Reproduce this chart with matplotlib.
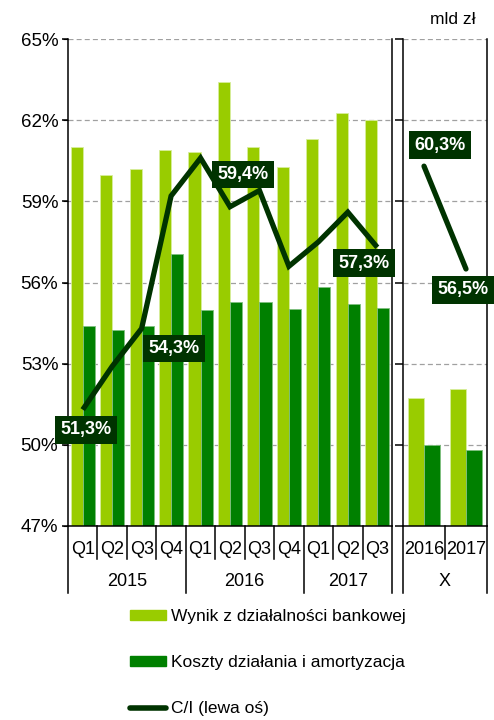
import numpy as np
import matplotlib
matplotlib.use("Agg")
from matplotlib import pyplot as plt
from matplotlib import transforms
from matplotlib.patches import Patch
from matplotlib.lines import Line2D

plt.rcParams['font.family'] = ['Liberation Sans', 'DejaVu Sans']

# quarterly data
quarters = ['Q1', 'Q2', 'Q3', 'Q4', 'Q1', 'Q2', 'Q3', 'Q4', 'Q1', 'Q2', 'Q3']
years = ['2015', '2016', '2017']
year_spans = [(0, 4), (4, 8), (8, 11)]
wynik_q = [15.56, 14.41, 14.66, 15.44, 15.36, 18.23, 15.56, 14.74, 15.89, 16.96, 16.67]
koszty_q = [8.21, 8.05, 8.21, 11.17, 8.87, 9.20, 9.20, 8.91, 9.81, 9.12, 8.95]
ci_q = [51.3, 52.9, 54.3, 59.2, 60.6, 58.8, 59.4, 56.6, 57.5, 58.6, 57.3]

# annual data
annual = ['2016', '2017']
wynik_y = [63.1, 67.5]
koszty_y = [39.9, 37.5]
ci_y = [60.3, 56.5]

# labelled C/I points: (index, dx, dy) offsets in pixels
ci_labels_q = [(0, 3, -20), (2, 32, -20), (6, -16, 16), (10, -13, -16)]
ci_labels_y = [(0, 16, 21), (1, -3, -21)]

LIME = '#99cc00'
GREEN = '#008000'
DARK = '#003300'
GRID = '#a0a0a0'

fig = plt.figure(figsize=(4.94, 7.2), dpi=100)

H = 487 / 720
B = (720 - 526) / 720
ax = fig.add_axes([68 / 494, B, (392 - 68) / 494, H])
axr = fig.add_axes([403 / 494, B, (487 - 403) / 494, H])


def style_panel(a, ymax):
    a.set_ylim(0, ymax)
    a.set_yticks(np.linspace(0, ymax, 7))
    a.yaxis.grid(True, color=GRID, linestyle=(0, (4, 2.5)), linewidth=0.9)
    a.set_axisbelow(True)
    a.spines['top'].set_visible(False)
    for s in ['left', 'right', 'bottom']:
        a.spines[s].set_color('black')
        a.spines[s].set_linewidth(1.1)
    a.set_xticks([])
    a.tick_params(axis='y', left=False, right=False, labelleft=False)


def separators(a, xs, long_xs, labels, label_pos, groups, group_pos):
    trans = transforms.blended_transform_factory(a.transData, a.transAxes)
    for x in xs:
        y1 = -(593 - 526) / 487 if x in long_xs else -(559 - 526) / 487
        a.add_line(Line2D([x, x], [0, y1], transform=trans, color='black',
                          lw=1.1, clip_on=False))
    for x, lab in zip(label_pos, labels):
        a.text(x, -(549 - 526) / 487, lab, transform=trans, ha='center',
               va='center', fontsize=13)
    for x, lab in zip(group_pos, groups):
        a.text(x, -(582 - 526) / 487, lab, transform=trans, ha='center',
               va='center', fontsize=13)


# main panel: bars
style_panel(ax, 20)
x = np.arange(len(quarters))
w = 0.41
ax.bar(x - w / 2, wynik_q, w, color=LIME, edgecolor='#d8ee9c', lw=0.6)
ax.bar(x + w / 2, koszty_q, w, color=GREEN, edgecolor='#7fbf7f', lw=0.6)
ax.set_xlim(-0.5, len(quarters) - 0.5)
bounds = np.arange(len(quarters) + 1) - 0.5
separators(ax, bounds, [-0.5, 3.5, 7.5, 10.5], quarters, x, years,
           [(a + b - 1) / 2 for a, b in year_spans])

# main panel: C/I line on a percent axis shown on the left
axp = ax.twinx()
axp.set_ylim(47, 65)
axp.set_yticks(np.arange(47, 66, 3))
axp.set_yticklabels(['%d%%' % v for v in range(47, 66, 3)], fontsize=13.5)
axp.yaxis.set_ticks_position('left')
axp.yaxis.set_label_position('left')
axp.tick_params(axis='y', length=4, width=1.1, pad=3)
for s in axp.spines.values():
    s.set_visible(False)
axp.plot(x, ci_q, color=DARK, lw=3.8, solid_joinstyle='miter',
         solid_capstyle='butt')

box = dict(boxstyle='square,pad=0.3', fc=DARK, ec='none')
for i, dx, dy in ci_labels_q:
    axp.annotate(('%.1f%%' % ci_q[i]).replace('.', ','), (x[i], ci_q[i]),
                 xytext=(dx, dy), textcoords='offset pixels', ha='center',
                 va='center', color='white', fontsize=13, fontweight='bold',
                 bbox=box, annotation_clip=False, zorder=5)

# annual panel
style_panel(axr, 240)
axr.tick_params(axis='y', right=True, length=6, width=1.1, direction='out')
xr = np.arange(len(annual))
wr = 0.37
axr.bar(xr - wr / 2, wynik_y, wr, color=LIME, edgecolor='#d8ee9c', lw=0.6)
axr.bar(xr + wr / 2, koszty_y, wr, color=GREEN, edgecolor='#7fbf7f', lw=0.6)
axr.set_xlim(-0.5, 1.5)
separators(axr, [-0.5, 0.5, 1.5], [-0.5, 1.5], annual, xr, ['X'], [0.5])

axrp = axr.twinx()
axrp.set_ylim(47, 65)
axrp.set_yticks([])
for s in axrp.spines.values():
    s.set_visible(False)
axrp.plot(xr, ci_y, color=DARK, lw=3.8, solid_capstyle='round')
for i, dx, dy in ci_labels_y:
    axrp.annotate(('%.1f%%' % ci_y[i]).replace('.', ','), (xr[i], ci_y[i]),
                  xytext=(dx, dy), textcoords='offset pixels', ha='center',
                  va='center', color='white', fontsize=13, fontweight='bold',
                  bbox=box, annotation_clip=False, zorder=5)

fig.text(453 / 494, 1 - 19 / 720, 'mld zł', ha='center', va='center',
         fontsize=12.5)

handles = [Patch(color=LIME), Patch(color=GREEN),
           Line2D([], [], color=DARK, lw=4, solid_capstyle='round')]
labels = ['Wynik z działalności bankowej', 'Koszty działania i amortyzacja',
          'C/I (lewa oś)']
fig.legend(handles, labels, loc='upper left',
           bbox_to_anchor=(130 / 494, 1 - 609 / 720), frameon=False,
           fontsize=12.5, handlelength=2.1, handleheight=0.5,
           handletextpad=0.25, labelspacing=1.8, borderaxespad=0,
           borderpad=0)

fig.savefig('out.png', dpi=100)
